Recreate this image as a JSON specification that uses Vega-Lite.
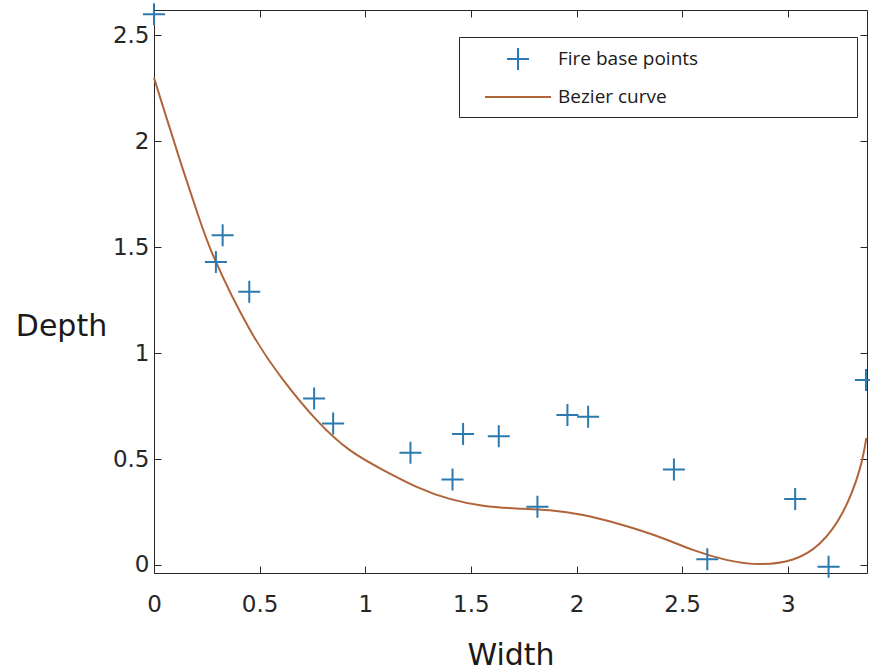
{
  "$schema": "https://vega.github.io/schema/vega-lite/v6.json",
  "autosize": {"type": "none"},
  "width": 713,
  "height": 563,
  "padding": {"left": 154, "top": 10, "right": 3, "bottom": 98},
  "background": "white",
  "config": {
    "view": {"stroke": "#262626", "strokeWidth": 1},
    "axis": {
      "grid": false,
      "domainColor": "#262626",
      "tickColor": "#262626",
      "labelColor": "#262626",
      "titleColor": "#1a1a1a",
      "labelFont": "DejaVu Sans",
      "titleFont": "DejaVu Sans",
      "labelFontSize": 23,
      "titleFontSize": 30,
      "titleFontWeight": "normal",
      "labelFlush": false,
      "tickSize": -7,
      "tickWidth": 1
    }
  },
  "datasets": {
    "points": [
      {"x": 0.0, "y": 2.6, "series": "Fire base points"},
      {"x": 0.325, "y": 1.557, "series": "Fire base points"},
      {"x": 0.293, "y": 1.43, "series": "Fire base points"},
      {"x": 0.451, "y": 1.29, "series": "Fire base points"},
      {"x": 0.758, "y": 0.786, "series": "Fire base points"},
      {"x": 0.848, "y": 0.668, "series": "Fire base points"},
      {"x": 1.214, "y": 0.53, "series": "Fire base points"},
      {"x": 1.413, "y": 0.404, "series": "Fire base points"},
      {"x": 1.463, "y": 0.618, "series": "Fire base points"},
      {"x": 1.632, "y": 0.608, "series": "Fire base points"},
      {"x": 1.815, "y": 0.275, "series": "Fire base points"},
      {"x": 1.957, "y": 0.708, "series": "Fire base points"},
      {"x": 2.055, "y": 0.7, "series": "Fire base points"},
      {"x": 2.461, "y": 0.451, "series": "Fire base points"},
      {"x": 2.619, "y": 0.027, "series": "Fire base points"},
      {"x": 3.035, "y": 0.311, "series": "Fire base points"},
      {"x": 3.193, "y": -0.008, "series": "Fire base points"},
      {"x": 3.37, "y": 0.873, "series": "Fire base points"}
    ],
    "curve": [
      {"x": 0.0, "y": 2.3},
      {"x": 0.05, "y": 2.14},
      {"x": 0.123, "y": 1.91},
      {"x": 0.206, "y": 1.66},
      {"x": 0.289, "y": 1.44},
      {"x": 0.454, "y": 1.11},
      {"x": 0.612, "y": 0.873},
      {"x": 0.77, "y": 0.684},
      {"x": 0.927, "y": 0.542},
      {"x": 1.085, "y": 0.448},
      {"x": 1.243, "y": 0.369},
      {"x": 1.4, "y": 0.312},
      {"x": 1.558, "y": 0.28},
      {"x": 1.716, "y": 0.267},
      {"x": 1.873, "y": 0.258},
      {"x": 2.031, "y": 0.236},
      {"x": 2.189, "y": 0.197},
      {"x": 2.37, "y": 0.14},
      {"x": 2.551, "y": 0.071},
      {"x": 2.709, "y": 0.024},
      {"x": 2.867, "y": 0.004},
      {"x": 3.024, "y": 0.026},
      {"x": 3.15, "y": 0.1},
      {"x": 3.261, "y": 0.25},
      {"x": 3.34, "y": 0.45},
      {"x": 3.372, "y": 0.6}
    ]
  },
  "layer": [
    {
      "data": {"name": "curve"},
      "mark": {"type": "line", "strokeWidth": 2, "interpolate": "natural", "color": "#B0643A"},
      "encoding": {
        "x": {
          "field": "x", "type": "quantitative",
          "scale": {"domain": [0, 3.375], "nice": false, "zero": false},
          "axis": {"orient": "top", "labels": false, "title": null, "domain": false, "values": [0, 0.5, 1, 1.5, 2, 2.5, 3]}
        },
        "y": {
          "field": "y", "type": "quantitative",
          "scale": {"domain": [-0.038, 2.62], "nice": false, "zero": false},
          "axis": {"orient": "right", "labels": false, "title": null, "domain": false, "values": [0, 0.5, 1, 1.5, 2, 2.5]}
        }
      }
    },
    {
      "data": {"name": "points"},
      "mark": {"type": "point", "filled": false, "strokeWidth": 2, "size": 484, "opacity": 1},
      "encoding": {
        "x": {
          "field": "x", "type": "quantitative",
          "axis": {"orient": "bottom", "title": "Width", "values": [0, 0.5, 1, 1.5, 2, 2.5, 3], "format": ".1~f", "labelPadding": 27, "domain": false, "titleBaseline": "alphabetic", "titleY": 91}
        },
        "y": {
          "field": "y", "type": "quantitative",
          "axis": {"orient": "left", "title": "Depth", "values": [0, 0.5, 1, 1.5, 2, 2.5], "format": ".1~f", "labelPadding": 12, "domain": false, "titleAngle": 0, "titleAlign": "center", "titleBaseline": "alphabetic", "titleX": -93, "titleY": 325}
        },
        "color": {
          "field": "series", "type": "nominal",
          "scale": {"domain": ["Fire base points", "Bezier curve"], "range": ["#2B79B0", "#B0643A"]},
          "legend": {
            "orient": "none", "legendX": 305, "legendY": 27, "title": null,
            "strokeColor": "#262626", "padding": 10, "fillColor": "white",
            "symbolSize": 484, "symbolStrokeWidth": 2, "symbolOffset": 37, "labelOffset": 28,
            "rowPadding": 11, "labelFont": "Open Sans", "labelFontSize": 19, "labelColor": "#1a1a1a", "labelLimit": 500,
            "labelExpr": "datum.label + '\u00a0\u00a0\u00a0\u00a0\u00a0\u00a0\u00a0\u00a0\u00a0\u00a0\u00a0\u00a0\u00a0\u00a0\u00a0\u00a0\u00a0\u00a0\u00a0\u00a0\u00a0\u00a0\u00a0\u00a0\u00a0\u00a0\u00a0\u00a0\u00a0\u00a0\u200b'"
          }
        },
        "shape": {
          "field": "series", "type": "nominal",
          "scale": {"domain": ["Fire base points", "Bezier curve"], "range": ["M-1,0H1M0,-1V1", "M-3,0H3"]},
          "legend": {
            "orient": "none", "legendX": 305, "legendY": 27, "title": null,
            "strokeColor": "#262626", "padding": 10, "fillColor": "white",
            "symbolSize": 484, "symbolStrokeWidth": 2, "symbolOffset": 37, "labelOffset": 28,
            "rowPadding": 11, "labelFont": "Open Sans", "labelFontSize": 19, "labelColor": "#1a1a1a", "labelLimit": 500,
            "labelExpr": "datum.label + '\u00a0\u00a0\u00a0\u00a0\u00a0\u00a0\u00a0\u00a0\u00a0\u00a0\u00a0\u00a0\u00a0\u00a0\u00a0\u00a0\u00a0\u00a0\u00a0\u00a0\u00a0\u00a0\u00a0\u00a0\u00a0\u00a0\u00a0\u00a0\u00a0\u00a0\u200b'"
          }
        }
      }
    }
  ],
  "resolve": {"axis": {"x": "independent", "y": "independent"}}
}
